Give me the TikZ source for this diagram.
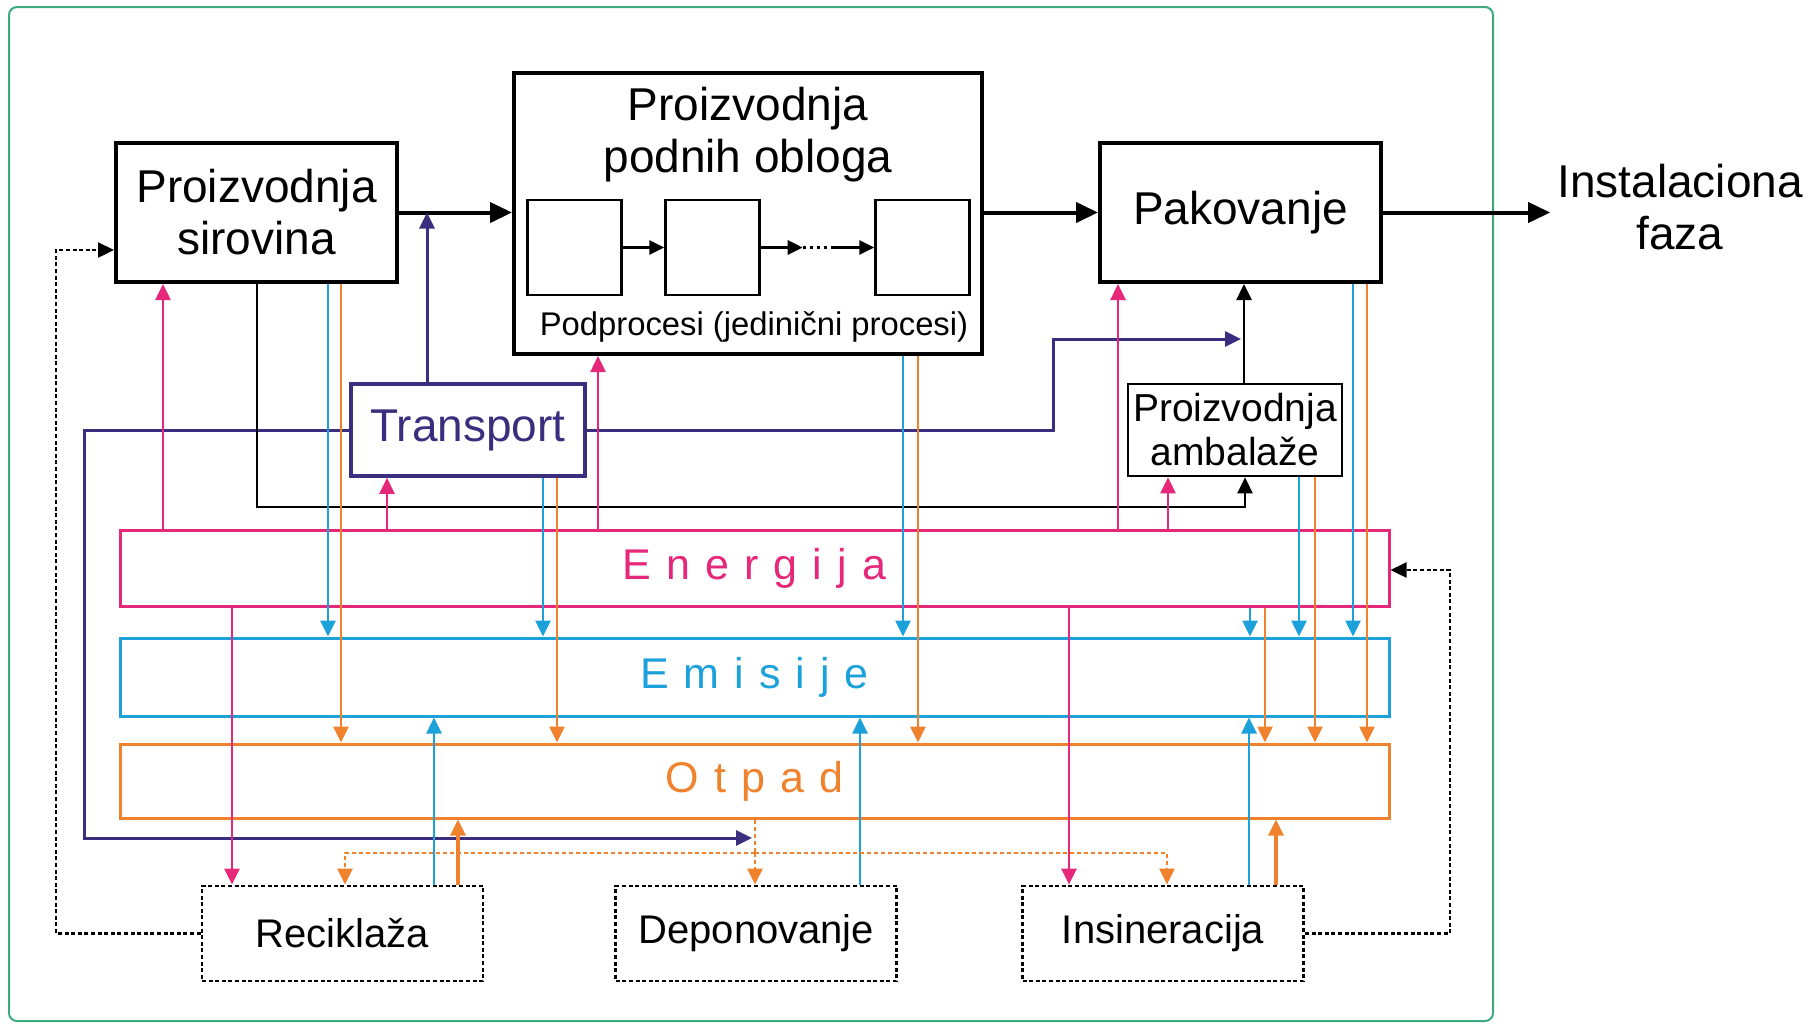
\documentclass[tikz,border=0pt]{standalone}
\usepackage{fontspec}
\setmainfont{Liberation Sans}
\usetikzlibrary{positioning,arrows.meta}

\definecolor{enRed}{HTML}{E6287A}
\definecolor{emBlue}{HTML}{1DA1DB}
\definecolor{otOrange}{HTML}{F0822D}
\definecolor{trPurple}{HTML}{3B2E7E}
\definecolor{frameGreen}{HTML}{3DAA7E}

\begin{document}
\begin{tikzpicture}[x=0.5pt, y=-0.5pt,
  box/.style={draw, line width=2pt, minimum width=140.5pt, minimum height=69.5pt, align=center, font=\fontsize{23}{26}\selectfont},
  subbox/.style={draw, line width=1.2pt, minimum width=47pt, minimum height=47.5pt},
  bar/.style={draw, line width=1.5pt, minimum width=634.5pt, minimum height=38pt, font=\fontsize{21.5}{24}\selectfont\addfontfeature{LetterSpace=35}},
  endbox/.style={draw, line width=1.4pt, dash pattern=on 2pt off 1.3pt, minimum width=140.5pt, minimum height=47.5pt, font=\fontsize{20}{22}\selectfont},
  flow/.style={line width=2pt, -{Triangle[length=11pt,width=10pt]}},
  subflow/.style={line width=1.5pt, -{Triangle[length=7.5pt,width=7pt]}},
  link/.style={line width=1.3pt, -{Triangle[length=8pt,width=7.5pt]}},
  feedback/.style={line width=1.2pt, dash pattern=on 2pt off 1.3pt, -{Triangle[length=8pt,width=7.5pt]}},
  odash/.style={otOrange, line width=1.2pt, dash pattern=on 2pt off 1.5pt, -{Triangle[length=8pt,width=7.5pt]}}]
\useasboundingbox (0,0) rectangle (1820,1025);

% Frame
\draw[frameGreen, line width=1pt, rounded corners=4pt] (9,7) rectangle (1493,1021);

% Main chain
\node[box] (sirovina) at (256.5,212.5) {Proizvodnja\\sirovina};
\node[box, minimum width=234pt, minimum height=140.5pt] (obloga) at (748,213.5) {};
\node[font=\fontsize{23}{26}\selectfont, align=center] (oblogaTitle) at (748,135) {Proizvodnja\\podnih obloga};
\node[box] (pakovanje) at (1240.5,212.5) {Pakovanje};
\node[font=\fontsize{23}{26}\selectfont, align=center] (faza) at (1680,207) {Instalaciona\\faza};

% Subprocesses
\node[subbox] (proc1) at (574.5,247.5) {};
\node[subbox, right=20.8pt of proc1] (proc2) {};
\node[subbox, right=56.8pt of proc2] (proc3) {};
\node[font=\fontsize{16.4}{18}\selectfont] (podprocesi) at (754,327) {Podprocesi (jedinični procesi)};
\coordinate[right=21pt of proc2.east] (dotsA);
\coordinate[left=21pt of proc3.west] (dotsB);

% Transport and packaging
\node[box, draw=trPurple, text=trPurple, line width=1.8pt, minimum width=117pt, minimum height=46pt] (transport) at (468,430) {Transport};
\node[draw, line width=1.3pt, inner sep=1pt, minimum width=107pt, minimum height=46pt, align=center, font=\fontsize{19.5}{22}\selectfont] (ambalaza) at (1235,430) {Proizvodnja\\ambalaže};

% Bars
\node[bar, draw=enRed, text=enRed] (energija) at (754.5,568) {Energija};
\node[bar, draw=emBlue, text=emBlue, minimum height=39pt, below=14.5pt of energija] (emisije) {Emisije};
\node[bar, draw=otOrange, text=otOrange, minimum height=37pt, below=12.5pt of emisije] (otpad) {Otpad};

% End of life
\node[endbox] (reciklaza) at (342.5,933.5) {Reciklaža};
\node[endbox, right=65pt of reciklaza] (deponovanje) {Deponovanje};
\node[endbox, right=61.5pt of deponovanje] (insineracija) {Insineracija};

% Main flow
\draw[flow] (sirovina.east) -- (sirovina.east -| obloga.west);
\draw[flow] (obloga.east |- pakovanje.west) -- (pakovanje.west);
\draw[flow] (pakovanje.east) -- (pakovanje.east -| faza.west);
\draw[subflow] (proc1) -- (proc2);
\draw[subflow] (proc2) -- (dotsA);
\draw[line width=1.5pt, dotted] (dotsA) -- (dotsB);
\draw[subflow] (dotsB) -- (proc3);

% Feedback loops
\coordinate (fbLeft) at (56,250);
\coordinate (fbRight) at (1450,570);
\draw[feedback] (reciklaza.west) -| (fbLeft) -- (fbLeft -| sirovina.west);
\draw[feedback] (insineracija.east) -| (fbRight) -- (fbRight -| energija.east);

% Transport links
\coordinate (trWest) at (84,838);
\coordinate (trEast) at (1053,339);
\draw[link, trPurple, line width=1.5pt] (transport.north -| 427,0) -- (sirovina.east -| 427,0);
\draw[link, trPurple, line width=1.5pt] (transport.west) -| (trWest) -- (trWest -| 752,0);
\draw[link, trPurple, line width=1.5pt] (transport.east) -| (trEast) -- (trEast -| 1241,0);

% Packaging links
\coordinate (blackTurn) at (1245,507);
\draw[link] (ambalaza.north -| 1244,0) -- (pakovanje.south -| 1244,0);
\draw[link] (sirovina.south -| 257,0) |- (blackTurn) -- (blackTurn |- ambalaza.south);

% Energy
\foreach \x/\dest in {163/sirovina, 387/transport, 598/obloga, 1118/pakovanje, 1168/ambalaza}
  \draw[link, enRed] (energija.north -| \x,0) -- (\dest.south -| \x,0);
\foreach \x/\dest in {232/reciklaza, 1069/insineracija}
  \draw[link, enRed] (energija.south -| \x,0) -- (\dest.north -| \x,0);

% Emissions
\foreach \x/\src in {328/sirovina, 543/transport, 903/obloga, 1250/energija, 1299/ambalaza, 1353/pakovanje}
  \draw[link, emBlue] (\src.south -| \x,0) -- (emisije.north -| \x,0);
\foreach \x/\src in {434/reciklaza, 860/deponovanje, 1249/insineracija}
  \draw[link, emBlue] (\src.north -| \x,0) -- (emisije.south -| \x,0);

% Waste
\foreach \x/\src in {341/sirovina, 557/transport, 918/obloga, 1265/energija, 1315/ambalaza, 1367/pakovanje}
  \draw[link, otOrange] (\src.south -| \x,0) -- (otpad.north -| \x,0);
\foreach \x/\src in {458/reciklaza, 1276/insineracija}
  \draw[link, otOrange, line width=1.6pt] (\src.north -| \x,0) -- (otpad.south -| \x,0);

% Waste treatment
\coordinate (otSplit) at (755,853);
\draw[otOrange, line width=1.2pt, dash pattern=on 2pt off 1.5pt] (otpad.south -| otSplit) -- (otSplit);
\draw[odash] (otSplit) -| (reciklaza.north -| 345,0);
\draw[odash] (otSplit) -- (otSplit |- deponovanje.north);
\draw[odash] (otSplit) -| (insineracija.north -| 1167,0);
\end{tikzpicture}
\end{document}
